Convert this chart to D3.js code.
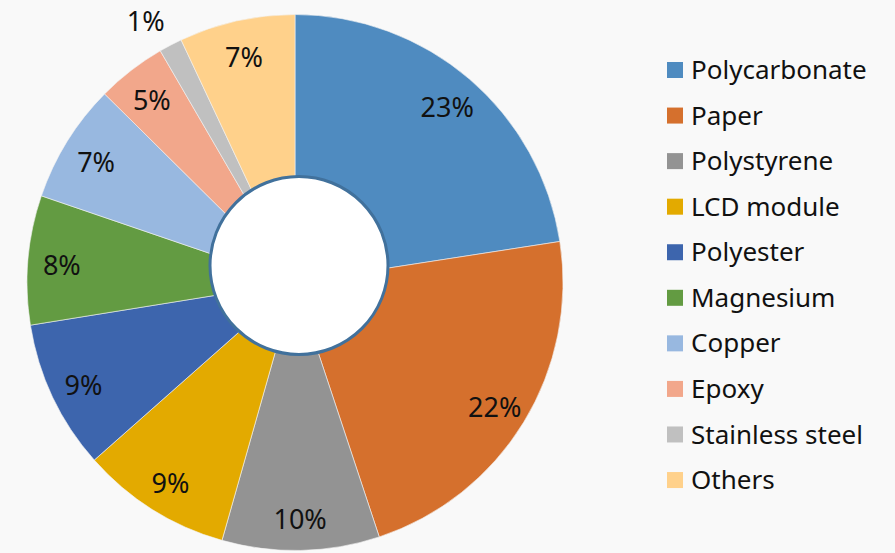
<!DOCTYPE html>
<style>
    body, html {
        margin: 0;
        padding: 0;
        background: #f9f9f9;
        overflow: hidden;
    }
    text { font-family: "Noto Sans", sans-serif; fill: #111; }
</style>
<svg width="895" height="553"></svg>
<script src="https://d3js.org/d3.v7.min.js"></script>
<script>
    // materials and their shares
    var categories = ["Polycarbonate", "Paper", "Polystyrene", "LCD module", "Polyester",
        "Magnesium", "Copper", "Epoxy", "Stainless steel", "Others"];
    var shares = [22.6, 22.4, 9.5, 9.1, 9.0, 7.8, 7.2, 4.2, 1.4, 7.0];
    var labels = ["23%", "22%", "10%", "9%", "9%", "8%", "7%", "5%", "1%", "7%"];
    var colors = ["#4f8bc0", "#d5702d", "#939393", "#e3aa00", "#3d65ad",
        "#639b42", "#98b8e0", "#f2a78b", "#c0c0c0", "#ffd18b"];

    var svg = d3.select("svg");
    var cx = 295, cy = 282.5, radius = 268;

    var pie = d3.pie().sort(null).value(function (d) { return d; });
    var arcs = pie(shares);
    var arc = d3.arc().innerRadius(0).outerRadius(radius);

    var g = svg.append("g").attr("transform", "translate(" + cx + "," + cy + ")");

    g.selectAll("path")
        .data(arcs)
        .enter().append("path")
        .attr("d", arc)
        .attr("fill", function (d, i) { return colors[i]; })
        .attr("stroke", "#f4f4f4")
        .attr("stroke-width", 0.6);

    // white hole, drawn a little off centre like the original
    svg.append("circle")
        .attr("cx", 299)
        .attr("cy", 265.5)
        .attr("r", 89)
        .attr("fill", "#fff")
        .attr("stroke", "#41719c")
        .attr("stroke-width", 3);

    // percentage labels; the tiny slice gets its label outside
    g.selectAll("text.lbl")
        .data(arcs)
        .enter().append("text")
        .attr("class", "lbl")
        .attr("transform", function (d, i) {
            var a = (d.startAngle + d.endAngle) / 2;
            if (i === 8) {
                return "translate(" + (Math.sin(a) * 300 - 10) + "," + (-Math.cos(a) * 300 + 5) + ")";
            }
            var r = 234;
            return "translate(" + (Math.sin(a) * r) + "," + (-Math.cos(a) * r + 3) + ")";
        })
        .attr("text-anchor", "middle")
        .attr("dy", "0.35em")
        .attr("font-size", 27)
        .text(function (d, i) { return labels[i]; });

    // legend
    var legend = svg.append("g").attr("transform", "translate(667,70)");
    var row = legend.selectAll("g")
        .data(categories)
        .enter().append("g")
        .attr("transform", function (d, i) { return "translate(0," + (i * 45.56) + ")"; });
    row.append("rect")
        .attr("x", 0)
        .attr("y", -8)
        .attr("width", 16)
        .attr("height", 16)
        .attr("fill", function (d, i) { return colors[i]; });
    row.append("text")
        .attr("x", 24)
        .attr("dy", "0.35em")
        .attr("font-size", 26)
        .text(function (d) { return d; });
</script>
